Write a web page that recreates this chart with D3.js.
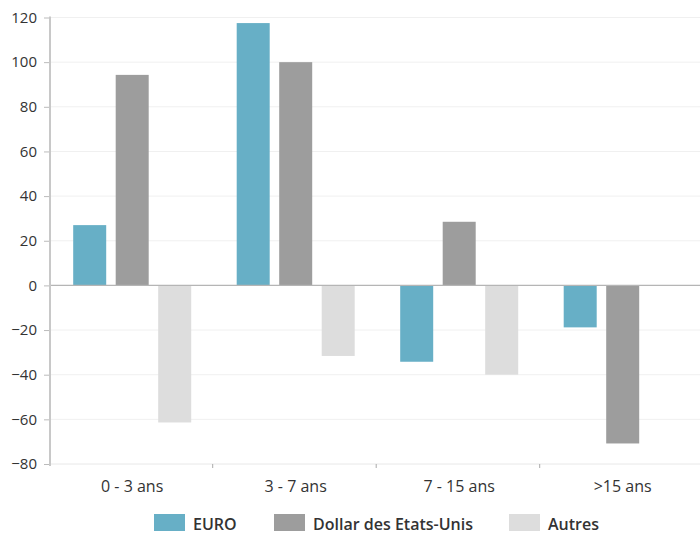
<!DOCTYPE html>
<html lang="fr">
<head>
  <meta charset="UTF-8">
  <title>Bar chart</title>
  <script src="https://d3js.org/d3.v7.min.js"></script>
  <style>
    body { margin: 0; background: #fff; }
    text { font-family: "Open Sans", sans-serif; fill: #333; }
  </style>
</head>
<body>
<div id="chart"></div>
<script>
  // data
  const categories = ["0 - 3 ans", "3 - 7 ans", "7 - 15 ans", ">15 ans"];
  const seriesNames = ["EURO", "Dollar des Etats-Unis", "Autres"];
  const euro = [27, 117.5, -34.2, -18.8];
  const dollar = [94.3, 100, 28.5, -70.8];
  const autres = [-61.4, -31.6, -40, 0];
  const yTicks = [-80, -60, -40, -20, 0, 20, 40, 60, 80, 100, 120];
  const colors = ["#67afc6", "#9d9d9d", "#dddddd"];

  const width = 700, height = 535;
  const margin = {top: 17.5, bottom: 71, left: 50};

  const svg = d3.select("#chart").append("svg")
    .attr("width", width).attr("height", height);

  const x0 = d3.scaleBand().domain(categories)
    .range([49.2, 703.2]);
  const x1 = d3.scaleBand().domain(seriesNames)
    .range([24, 142])
    .paddingInner(0.2235);
  const y = d3.scaleLinear().domain([-80, 120])
    .range([height - margin.bottom, margin.top]);

  // gridlines
  svg.append("g").selectAll("line")
    .data(yTicks.filter(t => t !== 0))
    .join("line")
    .attr("x1", margin.left).attr("x2", width)
    .attr("y1", d => y(d)).attr("y2", d => y(d))
    .attr("stroke", "#f0f0f0").attr("stroke-width", 1);

  // bars
  const rows = categories.map((c, i) => ({cat: c, vals: [euro[i], dollar[i], autres[i]]}));
  const grp = svg.append("g").selectAll("g")
    .data(rows).join("g")
    .attr("transform", d => `translate(${x0(d.cat)},0)`);
  grp.selectAll("rect")
    .data(d => d.vals.map((v, j) => ({name: seriesNames[j], v, j})).filter(e => e.v !== 0))
    .join("rect")
    .attr("x", d => x1(d.name))
    .attr("width", x1.bandwidth())
    .attr("y", d => y(Math.max(0, d.v)))
    .attr("height", d => Math.abs(y(d.v) - y(0)))
    .attr("fill", d => colors[d.j]);

  // zero line
  svg.append("line")
    .attr("x1", margin.left).attr("x2", width)
    .attr("y1", y(0)).attr("y2", y(0))
    .attr("stroke", "#b5b5b5").attr("stroke-width", 1.2);

  // bottom line + category ticks
  const yb = y(-80);
  svg.append("line")
    .attr("x1", margin.left).attr("x2", width)
    .attr("y1", yb).attr("y2", yb)
    .attr("stroke", "#f0f0f0");
  svg.append("g").selectAll("line")
    .data(categories.slice(1))
    .join("line")
    .attr("x1", d => x0(d)).attr("x2", d => x0(d))
    .attr("y1", yb).attr("y2", yb + 4)
    .attr("stroke", "#aaa");

  // y axis
  const yAxis = svg.append("g")
    .attr("transform", `translate(${margin.left},0)`)
    .call(d3.axisLeft(y).tickValues(yTicks).tickSize(6).tickPadding(7));
  yAxis.select(".domain").remove();
  yAxis.selectAll(".tick line").attr("stroke", "#bbb");
  yAxis.selectAll(".tick text").style("font-size", "15px").attr("fill", "#333")
    .style("font-family", "'Open Sans', sans-serif");
  svg.append("line")
    .attr("x1", margin.left).attr("x2", margin.left)
    .attr("y1", y(120) - 1).attr("y2", yb + 2)
    .attr("stroke", "#c8c8c8").attr("stroke-width", 2);

  // category labels
  svg.append("g").selectAll("text")
    .data(categories).join("text")
    .attr("x", d => x0(d) + 83)
    .attr("y", yb + 28)
    .attr("text-anchor", "middle")
    .style("font-size", "16px")
    .text(d => d);

  // legend
  const legendX = [154, 274, 509];
  const lg = svg.append("g").selectAll("g")
    .data(seriesNames).join("g")
    .attr("transform", (d, i) => `translate(${legendX[i]},514)`);
  lg.append("rect")
    .attr("width", 31).attr("height", 17)
    .attr("fill", (d, i) => colors[i]);
  lg.append("text")
    .attr("x", 39).attr("y", 16)
    .style("font-size", "16px").style("font-weight", 600)
    .text(d => d);
</script>
</body>
</html>
